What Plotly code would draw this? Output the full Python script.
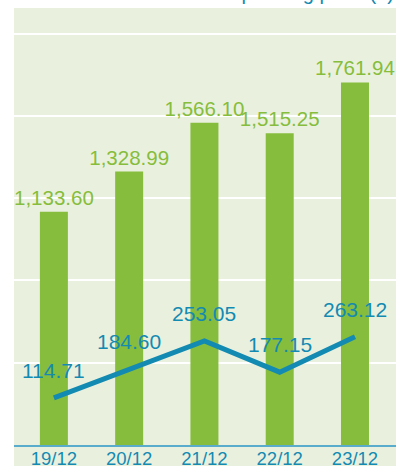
import plotly.graph_objects as go

categories = ["19/12", "20/12", "21/12", "22/12", "23/12"]
bar_values = [1133.60, 1328.99, 1566.10, 1515.25, 1761.94]
line_values = [114.71, 184.60, 253.05, 177.15, 263.12]
bar_labels = ["1,133.60", "1,328.99", "1,566.10", "1,515.25", "1,761.94"]
line_labels = ["114.71", "184.60", "253.05", "177.15", "263.12"]

GREEN = "#86bd3c"
TEAL = "#138ab2"
BG = "#e9f1de"
FONT = "Liberation Sans, Arial, sans-serif"

W, H = 409, 466
ml, mr, mt, mb = 14, 13, 8, 21
plot_h = H - mt - mb

fig = go.Figure()
fig.add_trace(go.Bar(
    x=categories, y=bar_values, marker_color=GREEN, marker_line_width=0,
    text=bar_labels, textposition="outside", constraintext="none",
    textfont=dict(color=GREEN, size=20.5, family=FONT), cliponaxis=False,
    hoverinfo="skip",
))
fig.add_trace(go.Scatter(
    x=categories, y=line_values, yaxis="y2", mode="lines",
    line=dict(color=TEAL, width=5), hoverinfo="skip",
))
for c, v, t in zip(categories, line_values, line_labels):
    fig.add_annotation(x=c, y=v, yref="y2", text=t, showarrow=False,
                       yanchor="bottom", yshift=14,
                       font=dict(color=TEAL, size=21, family=FONT))

# heading that is cut off by the top edge of the picture
fig.add_annotation(x=1, xref="paper", xanchor="right",
                   y=1 + (mt - 6) / plot_h, yref="paper", yanchor="bottom",
                   showarrow=False, text="Net sales / Operating profit (¥)",
                   font=dict(color=TEAL, size=20, family=FONT))

fig.add_shape(type="rect", xref="paper", yref="paper", x0=0, x1=1,
              y0=-mb / plot_h - 0.01, y1=1, fillcolor=BG, line_width=0, layer="below")

fig.update_layout(
    width=W, height=H, margin=dict(l=ml, r=mr, t=mt, b=mb, autoexpand=False),
    paper_bgcolor="white", plot_bgcolor=BG, showlegend=False,
    bargap=0.628,
    xaxis=dict(showline=True, linecolor="#5aaccc", linewidth=2, ticks="",
               range=[-0.53, 4.545], automargin=False, ticklabelstandoff=-4,
               tickfont=dict(color=TEAL, size=18.5, family=FONT), showgrid=False,
               fixedrange=True),
    yaxis=dict(range=[0, 2124], dtick=400, showgrid=True, gridcolor="white",
               gridwidth=2, showticklabels=False, zeroline=False, ticks="",
               automargin=False),
    yaxis2=dict(range=[0, 1063], overlaying="y", showgrid=False,
                showticklabels=False, zeroline=False, ticks="", automargin=False),
)
fig.write_html("out.html")
